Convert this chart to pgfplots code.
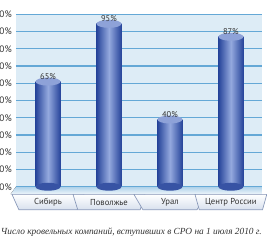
\documentclass[border=0pt]{standalone}
\usepackage{pgfplots}
\usepackage{pgfplotstable}
\pgfplotsset{compat=1.18}
\usepackage{fontspec}
\setmainfont{Liberation Serif}
\newfontfamily\sansf{PT Sans}
\usetikzlibrary{shapes.geometric}
\definecolor{bgblue}{HTML}{DDECF6}
\definecolor{gridblue}{HTML}{64A8D6}
\definecolor{bardark}{HTML}{26449A}
\definecolor{barlight}{HTML}{94A9DE}
\definecolor{captop}{HTML}{8EA2D8}
\definecolor{tabfill}{HTML}{D8E1EE}
\definecolor{tabline}{HTML}{8797B8}
\definecolor{txt}{HTML}{333333}
\pgfdeclareplotmark{cylcap}{%
  \pgfpathellipse{\pgfpointorigin}{\pgfqpoint{9.375pt}{0pt}}{\pgfqpoint{0pt}{3pt}}%
  \pgfusepathqfill}
\pgfplotstableread{
x h lab
0 61 65
1 94.5 95
2 39 40
3 87 87
}\datatab
\tikzset{tab/.style={trapezium, trapezium angle=70, shape border rotate=180, trapezium stretches=true,
        minimum width=54pt, minimum height=11.5pt, inner xsep=2pt, inner ysep=1pt,
        top color=white, bottom color=tabfill, draw=tabline, line width=0.5pt,
        anchor=north, text=txt, font=\sansf\fontsize{6.5}{7}\selectfont},
  cyl/.style={ybar, bar width=18.75pt, bar shift=0pt, draw=none, left color=bardark, right color=bardark, middle color=barlight}}
\begin{document}
\begin{tikzpicture}
\useasboundingbox (0,0) rectangle (200.25pt,182.25pt);
\clip (0,0) rectangle (200.25pt,182.25pt);
\begin{axis}[
  at={(36pt,42.2pt)}, anchor=origin,
  scale only axis, width=184.5pt, height=129.3pt,
  xmin=-0.525, xmax=3.51, ymin=0, ymax=100,
  axis line style={draw=none}, major tick length=0pt, clip=false,
  axis background/.style={fill=bgblue},
  ytick={0,10,...,100},
  yticklabels={0\%,10\%,20\%,30\%,40\%,50\%,60\%,70\%,80\%,90\%,100\%},
  yticklabel style={inner sep=0pt, xshift=-3pt, text=txt, font=\sansf\fontsize{7}{8}\selectfont},
  ymajorgrids, major grid style={gridblue, line width=1pt},
  xtick=\empty,
]
% floor band
\fill[top color=bgblue!60!gridblue, bottom color=bgblue!50!white]
  (rel axis cs:0,0) -- (rel axis cs:1,0) -- ([yshift=-5.5pt]rel axis cs:1,0) -- ([xshift=-4pt,yshift=-5.5pt]rel axis cs:0,0) -- cycle;
\draw[gridblue, line width=1pt] (rel axis cs:0,0) -- (rel axis cs:1,0);
% bottom caps
\addplot[only marks, mark=cylcap, mark options={fill=bardark!85!barlight}] table[x=x, y expr=0] {\datatab};
% bars (one path each so every cylinder gets its own shading)
\addplot[cyl] coordinates {(0,61)};
\addplot[cyl] coordinates {(1,94.5)};
\addplot[cyl] coordinates {(2,39)};
\addplot[cyl] coordinates {(3,87)};
% top caps with labels
\addplot[only marks, mark=cylcap, mark options={fill=captop},
  nodes near coords={\pgfplotspointmeta\%}, point meta=explicit symbolic,
  nodes near coords style={anchor=center, yshift=4pt, text=txt, font=\sansf\fontsize{6.3}{7}\selectfont}]
  table[x=x, y=h, meta=lab] {\datatab};
% category tabs
\node[tab] at ([yshift=-5.5pt]axis cs:0,0) {Сибирь};
\node[tab] at ([yshift=-5.5pt]axis cs:1,0) {Поволжье};
\node[tab] at ([yshift=-5.5pt]axis cs:2,0) {Урал};
\node[tab] at ([yshift=-5.5pt]axis cs:3,0) {Центр России};
\node[anchor=base west, inner sep=0pt, text=txt, font=\itshape\fontsize{7}{8}\selectfont]
  at ([xshift=-11.5pt,yshift=-35.5pt]rel axis cs:0,0)
  {Число кровельных компаний, вступивших в СРО на 1 июля 2010 г.};
\end{axis}
\end{tikzpicture}
\end{document}
